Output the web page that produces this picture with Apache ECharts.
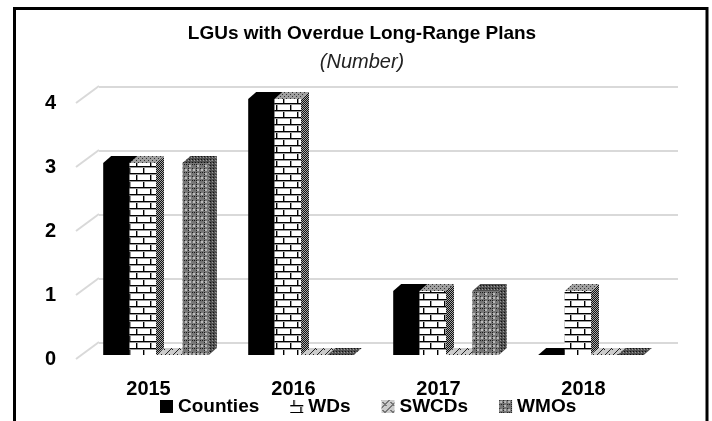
<!DOCTYPE html>
<html>
<head>
<meta charset="utf-8">
<style>
html, body { margin: 0; padding: 0; background: #fff; }
#main { width: 712px; height: 421px; }
</style>
<script src="https://cdn.jsdelivr.net/npm/echarts@6/dist/echarts.min.js"></script>
</head>
<body>
<div id="main"></div>
<script>
var years = ['2015', '2016', '2017', '2018'];
var counties = [3, 4, 1, 0];
var wds = [3, 4, 1, 1];
var swcds = [0, 0, 0, 0];
var wmos = [3, 0, 1, 0];
var yTicks = [0, 1, 2, 3, 4];

var myChart = echarts.init(document.getElementById('main'));

var barWidth = 26.4;
var depthX = 8, depthY = 7;
var wallX = 23, wallY = 17;

// small tiles for the bar fills
function makeTile(w, h, draw) {
    var c = document.createElement('canvas');
    c.width = w;
    c.height = h;
    draw(c.getContext('2d'));
    return { image: c, repeat: 'repeat' };
}

var brickFront = makeTile(14, 14, function (g) {
    g.fillStyle = '#fff';
    g.fillRect(0, 0, 14, 14);
    g.fillStyle = '#000';
    g.fillRect(0, 5, 14, 1);
    g.fillRect(0, 12, 14, 1);
    g.fillRect(3, 0, 1, 5);
    g.fillRect(10, 6, 1, 6);
    g.fillStyle = '#999';
    g.fillRect(0, 6, 14, 1);
    g.fillRect(0, 13, 14, 1);
    g.fillRect(4, 0, 1, 5);
    g.fillRect(11, 7, 1, 5);
});
var hatchDark = makeTile(4, 4, function (g) {
    g.fillStyle = '#a8a8a8';
    g.fillRect(0, 0, 4, 4);
    g.fillStyle = '#111';
    for (var i = 0; i < 4; i++) {
        g.fillRect(i, 3 - i, 1, 1);
        g.fillRect((i + 2) % 4, 3 - i, 1, 1);
    }
});
var brickTop = makeTile(4, 4, function (g) {
    g.fillStyle = '#a0a0a0';
    g.fillRect(0, 0, 4, 4);
    g.fillStyle = '#333';
    g.fillRect(0, 0, 1, 1);
    g.fillRect(2, 2, 1, 1);
});
var diagonalBrick = makeTile(8, 8, function (g) {
    g.fillStyle = '#ccc';
    g.fillRect(0, 0, 8, 8);
    g.strokeStyle = '#222';
    g.lineWidth = 1;
    g.beginPath();
    g.moveTo(0, 8);
    g.lineTo(8, 0);
    g.moveTo(1, 2);
    g.lineTo(5, 6);
    g.stroke();
});
var plaid = makeTile(8, 8, function (g) {
    g.fillStyle = '#777';
    g.fillRect(0, 0, 8, 8);
    g.fillStyle = '#bbb';
    g.fillRect(1, 1, 2, 2);
    g.fillRect(5, 5, 2, 2);
    g.fillRect(5, 1, 2, 2);
    g.fillStyle = '#1c1c1c';
    g.fillRect(0, 4, 1, 1);
    g.fillRect(2, 4, 1, 1);
    g.fillRect(4, 0, 1, 1);
    g.fillRect(4, 2, 1, 1);
    g.fillRect(4, 4, 1, 1);
    g.fillRect(4, 6, 1, 1);
    g.fillRect(0, 0, 1, 1);
});
var plaidDark = makeTile(3, 3, function (g) {
    g.fillStyle = '#505050';
    g.fillRect(0, 0, 3, 3);
    g.fillStyle = '#111';
    g.fillRect(0, 0, 1, 1);
    g.fillStyle = '#999';
    g.fillRect(2, 1, 1, 1);
});

// draws one bar as front, side and top faces, index is the place inside the group
function barRenderer(index, front, side, top) {
    return function (params, api) {
        var p = api.coord([api.value(0), api.value(1)]);
        var base = api.coord([api.value(0), 0]);
        var x = p[0] + (index - 2) * barWidth + 7.5;
        var yTop = p[1] - 4;
        var yBase = base[1] - 4;
        var children = [];
        if (yBase > yTop) {
            children.push({
                type: 'rect',
                shape: { x: x, y: yTop, width: barWidth, height: yBase - yTop },
                style: { fill: front }
            });
            children.push({
                type: 'polygon',
                shape: { points: [[x + barWidth, yTop], [x + barWidth + depthX, yTop - depthY], [x + barWidth + depthX, yBase - depthY], [x + barWidth, yBase]] },
                style: { fill: side }
            });
        }
        children.push({
            type: 'polygon',
            shape: { points: [[x, yTop], [x + depthX, yTop - depthY], [x + barWidth + depthX, yTop - depthY], [x + barWidth, yTop]] },
            style: { fill: top }
        });
        return { type: 'group', children: children };
    };
}

function barSeries(name, values, index, front, side, top) {
    var data = [];
    for (var i = 0; i < values.length; i++) {
        data.push([i, values[i]]);
    }
    return {
        name: name,
        type: 'custom',
        xAxisIndex: 0,
        yAxisIndex: 0,
        z: 3 + index,
        clip: false,
        itemStyle: { color: front },
        renderItem: barRenderer(index, front, side, top),
        data: data
    };
}

// slanted lines of the side wall, they join the front plane to the back wall
var wallSeries = {
    type: 'custom',
    xAxisIndex: 0,
    yAxisIndex: 0,
    z: 1,
    silent: true,
    clip: false,
    renderItem: function (params, api) {
        var p = api.coord([0, api.value(0)]);
        var x = params.coordSys.x;
        return {
            type: 'line',
            shape: { x1: x, y1: p[1], x2: x + wallX, y2: p[1] - wallY },
            style: { stroke: '#d9d9d9', lineWidth: 2 }
        };
    },
    data: yTicks.map(function (v) { return [v]; })
};

var option = {
    animation: false,
    backgroundColor: '#fff',
    title: [{
        text: 'LGUs with Overdue Long-Range Plans',
        left: 357,
        top: 19,
        textAlign: 'center',
        textStyle: { fontFamily: 'Liberation Sans', fontWeight: 'bold', fontSize: 19, color: '#000' }
    }, {
        text: '(Number)',
        left: 357,
        top: 47,
        textAlign: 'center',
        textStyle: { fontFamily: 'Liberation Sans', fontStyle: 'italic', fontWeight: 'normal', fontSize: 20, color: '#222' }
    }],
    legend: {
        left: 155,
        top: 392,
        itemWidth: 13,
        itemHeight: 13,
        itemGap: 31,
        icon: 'rect',
        textStyle: { fontFamily: 'Liberation Sans', fontWeight: 'bold', fontSize: 19, color: '#000' },
        data: ['Counties', 'WDs', 'SWCDs', 'WMOs']
    },
    grid: [
        { left: 76, top: 103, width: 580, height: 256 },
        { left: 99, top: 87, width: 579, height: 256 }
    ],
    xAxis: [{
        type: 'category',
        gridIndex: 0,
        data: years,
        axisLine: { show: false },
        axisTick: { show: false },
        axisLabel: { margin: 20, fontFamily: 'Liberation Sans', fontWeight: 'bold', fontSize: 20, color: '#000' }
    }, {
        type: 'category',
        gridIndex: 1,
        data: years,
        show: false
    }],
    yAxis: [{
        type: 'value',
        gridIndex: 0,
        min: 0,
        max: 4,
        interval: 1,
        splitLine: { show: false },
        axisLine: { show: false },
        axisTick: { show: false },
        axisLabel: { margin: 20, fontFamily: 'Liberation Sans', fontWeight: 'bold', fontSize: 20, color: '#000' }
    }, {
        type: 'value',
        gridIndex: 1,
        min: 0,
        max: 4,
        interval: 1,
        axisLine: { show: false },
        axisTick: { show: false },
        axisLabel: { show: false },
        splitLine: { show: true, lineStyle: { color: '#d9d9d9', width: 2 } }
    }],
    graphic: [{
        type: 'polyline',
        z: 100,
        silent: true,
        shape: { points: [[14.5, 421], [14.5, 8.5], [707, 8.5], [707, 421]] },
        style: { fill: 'none', stroke: '#000', lineWidth: 3 }
    }],
    series: [
        wallSeries,
        barSeries('Counties', counties, 0, '#000', '#000', '#000'),
        barSeries('WDs', wds, 1, brickFront, hatchDark, brickTop),
        barSeries('SWCDs', swcds, 2, diagonalBrick, hatchDark, diagonalBrick),
        barSeries('WMOs', wmos, 3, plaid, plaidDark, plaidDark)
    ]
};

myChart.setOption(option);
</script>
</body>
</html>
